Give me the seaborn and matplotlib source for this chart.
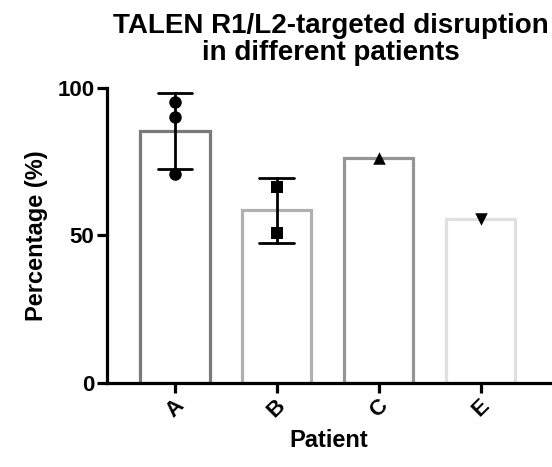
import matplotlib
matplotlib.use("Agg")
import matplotlib.pyplot as plt
import seaborn as sns
import pandas as pd

patients = ["A", "A", "A", "B", "B", "C", "E"]
values = [95.1, 90.3, 70.8, 66.3, 50.7, 76.2, 55.5]
order = ["A", "B", "C", "E"]
edge_colors = ["#7a7a7a", "#b0b0b0", "#959595", "#e0e0e0"]
markers = ["o", "s", "^", "v"]
yticks = [0, 50, 100]

df = pd.DataFrame({"Patient": patients, "Percentage": values})

sns.set_theme(style="ticks")
plt.rcParams["font.family"] = ["Liberation Sans", "DejaVu Sans"]
plt.rcParams["font.weight"] = "bold"
plt.rcParams["text.color"] = "black"
plt.rcParams["axes.labelcolor"] = "black"

fig = plt.figure(figsize=(5.52, 4.67), dpi=100)
ax = fig.add_axes([0.1938, 0.1799, 0.8022, 0.6317])

sns.barplot(data=df, x="Patient", y="Percentage", order=order,
            errorbar="sd", capsize=0.34, width=0.68,
            fill=False, linewidth=2.3, ax=ax,
            err_kws={"color": "black", "linewidth": 2.0, "zorder": 4})
for patch, c in zip(ax.patches, edge_colors):
    patch.set_edgecolor(c)
    patch.set_facecolor("white")
    patch.set_fill(True)
    patch.set_zorder(2)

for p, m in zip(order, markers):
    sub = df[df["Patient"] == p]
    sns.swarmplot(data=sub, x="Patient", y="Percentage", order=order,
                  marker=m, color="black", size=9, ax=ax, zorder=5)

ax.set_ylim(0, 100)
ax.set_xlim(-0.667, 3.68)
ax.set_yticks(yticks)
ax.set_yticklabels([str(t) for t in yticks])
for s in ["top", "right"]:
    ax.spines[s].set_visible(False)
for s in ["left", "bottom"]:
    ax.spines[s].set_linewidth(2.3)
    ax.spines[s].set_color("black")
ax.tick_params(axis="both", width=2.3, length=7, colors="black",
               labelsize=16, pad=2)
for lab in ax.get_xticklabels():
    lab.set_rotation(45)
    lab.set_fontweight("bold")
for lab in ax.get_yticklabels():
    lab.set_fontweight("bold")

ax.set_xlabel("Patient", fontsize=17, fontweight="bold", labelpad=5)
ax.set_ylabel("Percentage (%)", fontsize=17, fontweight="bold", labelpad=7)
ax.set_title("TALEN R1/L2-targeted disruption\nin different patients",
             fontsize=20, fontweight="bold", pad=20, linespacing=1.08,
             x=0.505)

fig.savefig("out.png", dpi=100)
